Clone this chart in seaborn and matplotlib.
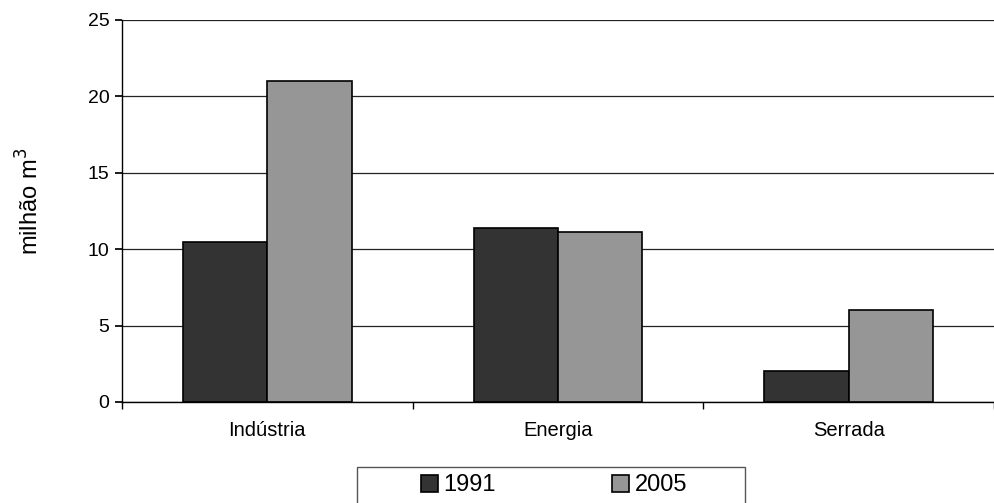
import pandas as pd
import matplotlib
matplotlib.use("Agg")
import matplotlib.pyplot as plt
from matplotlib.patches import Rectangle
import seaborn as sns

# values (milhão m3)
categories = ["Indústria", "Energia", "Serrada"]
years = ["1991", "2005"]
values_1991 = [10.5, 11.4, 2.0]
values_2005 = [21.0, 11.1, 6.0]

df = pd.DataFrame({
    "categoria": categories * 2,
    "ano": [years[0]] * 3 + [years[1]] * 3,
    "valor": values_1991 + values_2005,
})

sns.set_theme(style="white")
plt.rcParams["font.family"] = ["Liberation Sans", "DejaVu Sans"]
plt.rcParams["text.color"] = "black"
plt.rcParams["xtick.color"] = "black"
plt.rcParams["ytick.color"] = "black"
plt.rcParams["axes.labelcolor"] = "black"

fig = plt.figure(figsize=(9.94, 5.03), dpi=100)
ax = fig.add_axes([122 / 994, 101 / 503, 872 / 994, 382 / 503])

sns.barplot(data=df, x="categoria", y="valor", hue="ano",
            palette={"1991": "#333333", "2005": "#969696"},
            width=0.58, edgecolor="black", linewidth=1.2,
            saturation=1, ax=ax, legend=True)

ax.set_ylim(0, 25)
ax.set_xlim(-0.5, 2.5)
ax.set_yticks([0, 5, 10, 15, 20, 25])
ax.yaxis.grid(True, color="#222222", linewidth=0.9)
ax.set_axisbelow(True)

# category labels without marks, marks on the boundaries
ax.tick_params(axis="x", which="major", length=0, pad=14, labelsize=14.5)
ax.set_xticks([-0.5, 0.5, 1.5, 2.5], minor=True)
ax.tick_params(axis="x", which="minor", length=5, color="black", direction="out", bottom=True)
ax.tick_params(axis="y", length=5, color="black", direction="out", left=True, labelsize=14, pad=4)

for side in ["top", "right"]:
    ax.spines[side].set_visible(False)
for side in ["left", "bottom"]:
    ax.spines[side].set_color("black")
    ax.spines[side].set_linewidth(1.0)

ax.set_xlabel("")
ax.set_ylabel("milhão m$^3$", fontsize=17)
ax.yaxis.set_label_coords(-0.0895, 0.526)

handles, labels = ax.get_legend_handles_labels()
ax.get_legend().remove()
fig.legend(handles, labels, loc="upper center",
           bbox_to_anchor=(554 / 994, 1 - 472 / 503),
           ncol=2, fontsize=17, frameon=False,
           handlelength=0.72, handleheight=0.72, handletextpad=0.25,
           columnspacing=4.9, borderpad=0.1, borderaxespad=0)

# legend box, cut by the bottom edge as in the reference
fig.patches.append(Rectangle((357 / 994, -0.05), 388 / 994, 0.05 + 1 - 467 / 503,
                             transform=fig.transFigure, fill=False,
                             edgecolor="#555555", linewidth=1.0))

fig.savefig("out.png", dpi=100)
